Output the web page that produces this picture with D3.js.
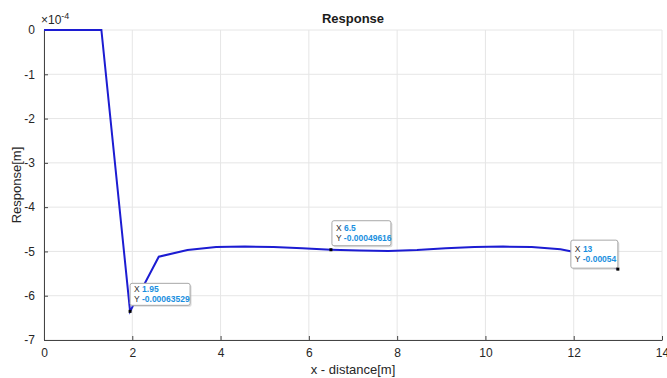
<!DOCTYPE html>
<html>
<head>
<meta charset="utf-8">
<script src="https://cdn.jsdelivr.net/npm/d3@7"></script>
<style>
  body { margin: 0; background: #fff; }
  svg { font-family: "Liberation Sans", Arial, sans-serif; }
  .grid line { stroke: #e6e6e6; stroke-width: 1; }
  .axis path, .axis line { stroke: #444; }
  .axis text { fill: #262626; font-size: 12px; }
</style>
</head>
<body>
<svg width="667" height="378"></svg>
<script>
// response values in units of 1e-4 m, sampled every 0.65 m
var xs = [0, 0.65, 1.3, 1.95, 2.6, 3.25, 3.9, 4.55, 5.2, 5.85, 6.5,
          7.15, 7.8, 8.45, 9.1, 9.75, 10.4, 11.05, 11.7, 12.35, 13];
var ys = [0, 0, 0, -6.3529, -5.12, -4.97, -4.90, -4.89, -4.90, -4.93, -4.9616,
          -4.98, -4.99, -4.97, -4.93, -4.90, -4.89, -4.90, -4.95, -5.08, -5.4];
var xTicks = [0, 2, 4, 6, 8, 10, 12, 14];
var yTicks = [0, -1, -2, -3, -4, -5, -6, -7];
// data tips: x and the y label text
var tipX = [1.95, 6.5, 13];
var tipY = ['-0.00063529', '-0.00049616', '-0.00054'];

var svg = d3.select('svg');
var padLeft = 44, padRight = 662, padTop = 30, padBottom = 340;

var xScale = d3.scaleLinear().domain([0, 14]).range([padLeft, padRight]);
var yScale = d3.scaleLinear().domain([-7, 0]).range([padBottom, padTop]);

// grid
var grid = svg.append('g').attr('class', 'grid');
grid.selectAll('.vx').data(xTicks).enter().append('line')
  .attr('x1', function (d) { return xScale(d); })
  .attr('x2', function (d) { return xScale(d); })
  .attr('y1', padTop).attr('y2', padBottom);
grid.selectAll('.hy').data(yTicks).enter().append('line')
  .attr('y1', function (d) { return yScale(d); })
  .attr('y2', function (d) { return yScale(d); })
  .attr('x1', padLeft).attr('x2', padRight);

// axes (plain hyphen minus like the original)
var xAxis = d3.axisBottom(xScale).tickValues(xTicks).tickSizeInner(-4).tickSizeOuter(0).tickPadding(8);
var yAxis = d3.axisLeft(yScale).tickValues(yTicks)
  .tickFormat(function (d) { return String(d); })
  .tickSizeInner(-4).tickSizeOuter(0).tickPadding(9);

svg.append('g').attr('class', 'axis')
  .attr('transform', 'translate(0,' + padBottom + ')')
  .call(xAxis);

svg.append('g').attr('class', 'axis')
  .attr('transform', 'translate(' + padLeft + ',0)')
  .call(yAxis);

// exponent label
var ex = svg.append('text').attr('x', padLeft - 3).attr('y', 24)
  .attr('font-size', 12).attr('fill', '#262626');
ex.append('tspan').text('\u00d710');
ex.append('tspan').attr('dy', -5).attr('font-size', 9).text('-4');

// title and labels
svg.append('text').attr('x', (padLeft + padRight) / 2).attr('y', 23)
  .attr('text-anchor', 'middle').attr('font-size', 13).attr('font-weight', 'bold')
  .attr('fill', '#1a1a1a').text('Response');

svg.append('text').attr('x', (padLeft + padRight) / 2).attr('y', 374)
  .attr('text-anchor', 'middle').attr('font-size', 13).attr('fill', '#262626')
  .text('x - distance[m]');

svg.append('text')
  .attr('transform', 'translate(21,' + (padTop + padBottom) / 2 + ') rotate(-90)')
  .attr('text-anchor', 'middle').attr('font-size', 13).attr('fill', '#262626')
  .text('Response[m]');

// line
var data = xs.map(function (x, i) { return { x: x, y: ys[i] }; });
var lineFunction = d3.line()
  .x(function (d) { return xScale(d.x); })
  .y(function (d) { return yScale(d.y); });

svg.append('path').datum(data)
  .attr('d', lineFunction)
  .attr('fill', 'none')
  .attr('stroke', '#1c1cd2')
  .attr('stroke-width', 2);

// data tips
var offsets = [{ dx: 0, dy: -28, w: 60, h: 22 },
               { dx: 1, dy: -29, w: 59, h: 25 },
               { dx: -47, dy: -29, w: 47, h: 28 }];

tipX.forEach(function (x, i) {
  var yv = ys[xs.indexOf(x)];
  var px = xScale(x), py = yScale(yv);
  var o = offsets[i];
  var g = svg.append('g').attr('transform', 'translate(' + (px + o.dx) + ',' + (py + o.dy) + ')');
  g.append('rect').attr('x', 1.5).attr('y', 1.5).attr('width', o.w).attr('height', o.h)
    .attr('rx', 2).attr('fill', '#bbb').attr('opacity', 0.5);
  g.append('rect').attr('width', o.w).attr('height', o.h).attr('rx', 2)
    .attr('fill', '#fff').attr('stroke', '#a8a8a8').attr('stroke-width', 1);
  var t1 = g.append('text').attr('x', 4).attr('y', o.h / 2 - 2).attr('font-size', 8.5);
  t1.append('tspan').attr('fill', '#333').text('X ');
  t1.append('tspan').attr('fill', '#1a8fe0').attr('font-weight', 'bold').text(String(x));
  var t2 = g.append('text').attr('x', 4).attr('y', o.h / 2 + 8).attr('font-size', 8.5);
  t2.append('tspan').attr('fill', '#333').text('Y ');
  t2.append('tspan').attr('fill', '#1a8fe0').attr('font-weight', 'bold').text(tipY[i]);
  svg.append('rect').attr('x', px - 1.5).attr('y', py - 1.5)
    .attr('width', 3).attr('height', 3).attr('fill', '#000');
});
</script>
</body>
</html>
